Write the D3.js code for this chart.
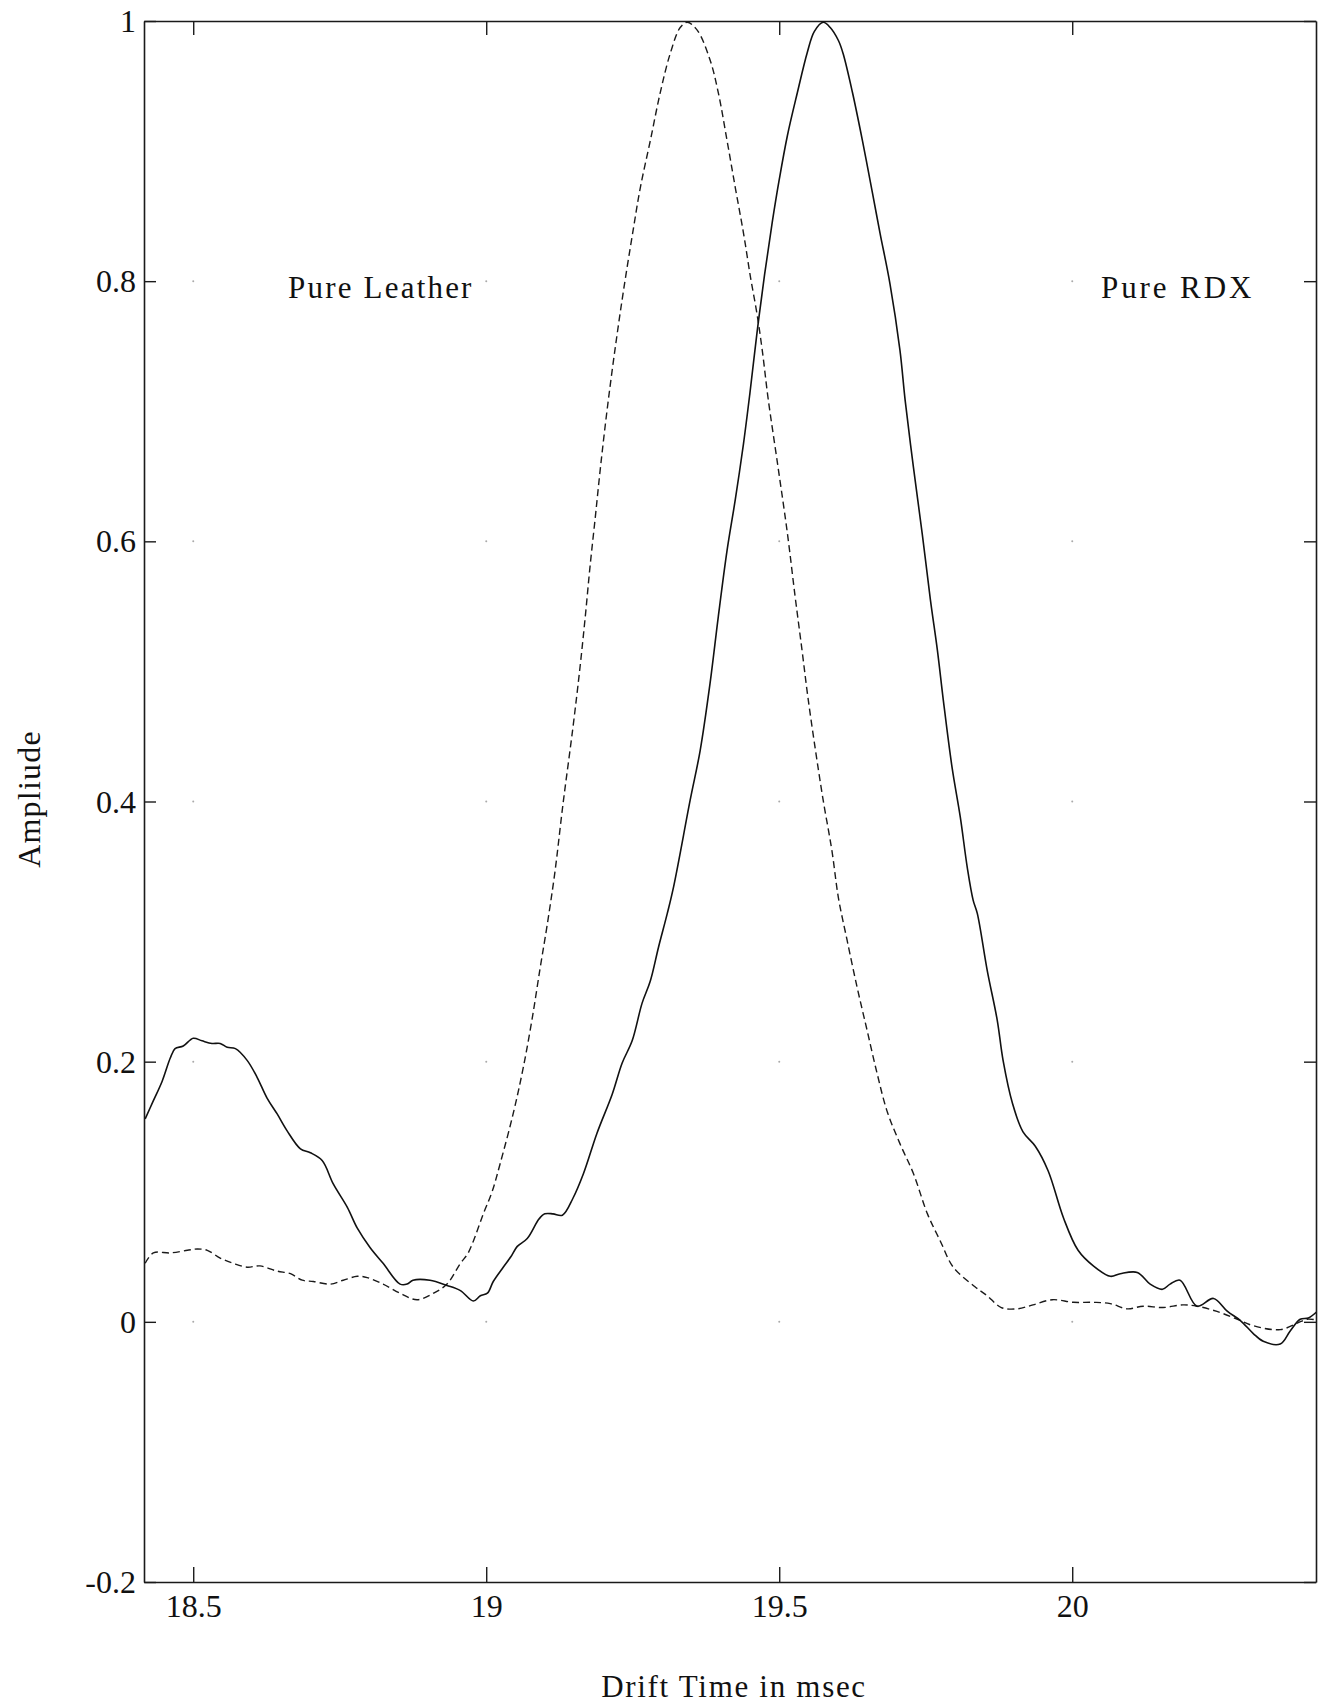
<!DOCTYPE html>
<html>
<head>
<meta charset="utf-8">
<script src="https://cdn.jsdelivr.net/npm/d3@7"></script>
<style>
  html, body { margin: 0; padding: 0; background: #ffffff; }
  svg { display: block; }
  text { font-family: "Liberation Serif", "Times New Roman", serif; fill: #111; }
</style>
</head>
<body>
<svg id="chart" width="1319" height="1706"></svg>
<script>
// ---- data (drift time in msec, amplitude) ----
const xTickValues = [18.5, 19, 19.5, 20];
const xTickLabels = ["18.5", "19", "19.5", "20"];
const yTickValues = [-0.2, 0, 0.2, 0.4, 0.6, 0.8, 1];
const yTickLabels = ["-0.2", "0", "0.2", "0.4", "0.6", "0.8", "1"];
const xDomain = [18.416, 20.416];
const yDomain = [-0.2, 1];

const annotationLabels = ["Pure Leather", "Pure RDX"];
const xTitle = "Drift Time in msec";
const yTitle = "Ampliude";

// solid trace
const solidSeries = [
  [18.418,0.156],[18.432,0.170],[18.447,0.185],[18.461,0.203],[18.469,0.210],[18.483,0.212],
  [18.500,0.218],[18.515,0.216],[18.532,0.214],[18.546,0.214],[18.558,0.211],[18.572,0.210],
  [18.592,0.201],[18.609,0.188],[18.626,0.172],[18.643,0.160],[18.660,0.147],[18.683,0.133],
  [18.700,0.130],[18.720,0.124],[18.739,0.106],[18.763,0.088],[18.780,0.072],[18.802,0.057],
  [18.824,0.045],[18.853,0.029],[18.865,0.029],[18.875,0.032],[18.904,0.032],[18.933,0.028],
  [18.956,0.024],[18.978,0.016],[18.990,0.020],[19.002,0.022],[19.012,0.031],[19.029,0.042],
  [19.042,0.050],[19.053,0.058],[19.070,0.064],[19.090,0.079],[19.100,0.083],[19.114,0.083],
  [19.130,0.082],[19.148,0.095],[19.166,0.114],[19.189,0.145],[19.215,0.175],[19.232,0.199],
  [19.249,0.216],[19.266,0.245],[19.280,0.262],[19.294,0.288],[19.309,0.314],[19.320,0.335],
  [19.348,0.401],[19.365,0.439],[19.382,0.491],[19.396,0.542],[19.411,0.593],[19.425,0.632],
  [19.439,0.675],[19.450,0.714],[19.462,0.760],[19.475,0.805],[19.488,0.845],[19.500,0.878],
  [19.514,0.912],[19.531,0.945],[19.548,0.976],[19.560,0.992],[19.575,0.999],[19.587,0.995],
  [19.601,0.985],[19.609,0.975],[19.625,0.945],[19.642,0.908],[19.659,0.868],[19.672,0.837],
  [19.689,0.798],[19.706,0.747],[19.715,0.708],[19.729,0.657],[19.744,0.606],[19.758,0.555],
  [19.770,0.516],[19.780,0.478],[19.795,0.426],[19.809,0.388],[19.821,0.349],[19.831,0.324],
  [19.838,0.314],[19.855,0.270],[19.872,0.232],[19.882,0.201],[19.898,0.168],[19.916,0.146],
  [19.937,0.135],[19.959,0.116],[19.985,0.080],[20.010,0.055],[20.036,0.043],[20.065,0.035],
  [20.082,0.037],[20.111,0.038],[20.133,0.029],[20.154,0.025],[20.167,0.029],[20.184,0.032],
  [20.213,0.012],[20.241,0.018],[20.265,0.008],[20.287,0.001],[20.309,-0.009],[20.326,-0.015],
  [20.355,-0.017],[20.372,-0.007],[20.389,0.002],[20.403,0.003],[20.418,0.008]
];

// dashed trace
const dashedSeries = [
  [18.418,0.045],[18.432,0.053],[18.461,0.053],[18.490,0.055],[18.507,0.056],[18.524,0.055],
  [18.546,0.049],[18.568,0.045],[18.592,0.042],[18.614,0.043],[18.643,0.039],[18.666,0.037],
  [18.686,0.032],[18.705,0.031],[18.734,0.029],[18.756,0.032],[18.780,0.035],[18.797,0.034],
  [18.824,0.029],[18.853,0.022],[18.882,0.017],[18.910,0.022],[18.933,0.029],[18.956,0.045],
  [18.968,0.052],[18.978,0.062],[18.995,0.083],[19.010,0.100],[19.024,0.122],[19.046,0.160],
  [19.063,0.195],[19.078,0.232],[19.092,0.272],[19.104,0.305],[19.117,0.345],[19.131,0.398],
  [19.148,0.457],[19.160,0.503],[19.169,0.542],[19.177,0.580],[19.186,0.618],[19.195,0.657],
  [19.206,0.700],[19.219,0.745],[19.234,0.792],[19.251,0.840],[19.263,0.872],[19.280,0.908],
  [19.297,0.945],[19.314,0.975],[19.331,0.995],[19.343,0.999],[19.360,0.993],[19.382,0.970],
  [19.396,0.945],[19.411,0.908],[19.425,0.872],[19.439,0.837],[19.451,0.803],[19.462,0.775],
  [19.471,0.747],[19.481,0.710],[19.498,0.657],[19.514,0.606],[19.527,0.558],[19.539,0.516],
  [19.549,0.480],[19.562,0.439],[19.575,0.401],[19.590,0.362],[19.601,0.326],[19.616,0.293],
  [19.633,0.257],[19.650,0.224],[19.667,0.191],[19.684,0.162],[19.706,0.137],[19.729,0.114],
  [19.753,0.083],[19.775,0.062],[19.797,0.042],[19.834,0.027],[19.855,0.020],[19.879,0.011],
  [19.906,0.010],[19.933,0.013],[19.966,0.017],[20.002,0.015],[20.036,0.015],[20.065,0.014],
  [20.094,0.010],[20.121,0.012],[20.155,0.011],[20.189,0.013],[20.213,0.012],[20.247,0.008],
  [20.282,0.002],[20.309,-0.003],[20.355,-0.006],[20.384,-0.001],[20.401,0.002],[20.422,0.001]
];

// ---- layout ----
const plot = { left: 144, right: 1316, top: 21, bottom: 1582 };
const svg = d3.select("#chart");

const x = d3.scaleLinear().domain(xDomain).range([plot.left, plot.right]);
const y = d3.scaleLinear().domain(yDomain).range([plot.bottom, plot.top]);

// clip
svg.append("defs").append("clipPath").attr("id", "clip")
  .append("rect").attr("x", plot.left).attr("y", plot.top - 2)
  .attr("width", plot.right - plot.left).attr("height", plot.bottom - plot.top + 4);

// faint grid dots at tick intersections (as in the scanned original)
const gridPts = [];
xTickValues.forEach(xv => yTickValues.forEach(yv => {
  if (yv > yDomain[0] && yv < yDomain[1]) gridPts.push([xv, yv]);
}));
svg.append("g").selectAll("circle").data(gridPts).join("circle")
  .attr("cx", d => x(d[0])).attr("cy", d => y(d[1])).attr("r", 1)
  .attr("fill", "#aaa");

// axes
const fontSize = 32;
const axisColor = "#1a1a1a";

const gBottom = svg.append("g").attr("transform", `translate(0,${plot.bottom})`)
  .call(d3.axisBottom(x).tickValues(xTickValues)
    .tickFormat((d, i) => xTickLabels[i]).tickSizeInner(-15).tickSizeOuter(0).tickPadding(12));
const gTop = svg.append("g").attr("transform", `translate(0,${plot.top})`)
  .call(d3.axisTop(x).tickValues(xTickValues).tickFormat("").tickSizeInner(-14).tickSizeOuter(0));
const gLeft = svg.append("g").attr("transform", `translate(${plot.left},0)`)
  .call(d3.axisLeft(y).tickValues(yTickValues)
    .tickFormat((d, i) => yTickLabels[i]).tickSizeInner(-12).tickSizeOuter(0).tickPadding(8));
const gRight = svg.append("g").attr("transform", `translate(${plot.right},0)`)
  .call(d3.axisRight(y).tickValues(yTickValues).tickFormat("").tickSizeInner(-12).tickSizeOuter(0));

[gBottom, gTop, gLeft, gRight].forEach(g => {
  g.select(".domain").attr("stroke", axisColor).attr("stroke-width", 1.6);
  g.selectAll(".tick line").attr("stroke", axisColor).attr("stroke-width", 1.4);
  g.selectAll(".tick text")
    .style("font-family", '"Liberation Serif", "Times New Roman", serif')
    .style("font-size", fontSize + "px").attr("fill", "#111");
});
gLeft.selectAll(".tick text").attr("dy", "0.33em");

// lines
const line = d3.line().x(d => x(d[0])).y(d => y(d[1])).curve(d3.curveCatmullRom.alpha(0.5));
const traces = svg.append("g").attr("clip-path", "url(#clip)");
traces.append("path").datum(dashedSeries)
  .attr("fill", "none").attr("stroke", "#1a1a1a").attr("stroke-width", 1.4)
  .attr("stroke-dasharray", "7,4").attr("d", line);
traces.append("path").datum(solidSeries)
  .attr("fill", "none").attr("stroke", "#111").attr("stroke-width", 1.6)
  .attr("d", line);

// annotations
svg.append("text").attr("x", 288).attr("y", 298)
  .style("font-size", "31px").style("letter-spacing", "2.2px")
  .text(annotationLabels[0]);
svg.append("text").attr("x", 1101).attr("y", 298)
  .style("font-size", "31px").style("letter-spacing", "2.9px")
  .text(annotationLabels[1]);

// titles
svg.append("text").attr("x", 734).attr("y", 1697).attr("text-anchor", "middle")
  .style("font-size", "31px").style("letter-spacing", "1.7px")
  .text(xTitle);
svg.append("text").attr("transform", "translate(40,799) rotate(-90)")
  .attr("text-anchor", "middle").style("font-size", "32px").style("letter-spacing", "1.2px")
  .text(yTitle);
</script>
</body>
</html>
